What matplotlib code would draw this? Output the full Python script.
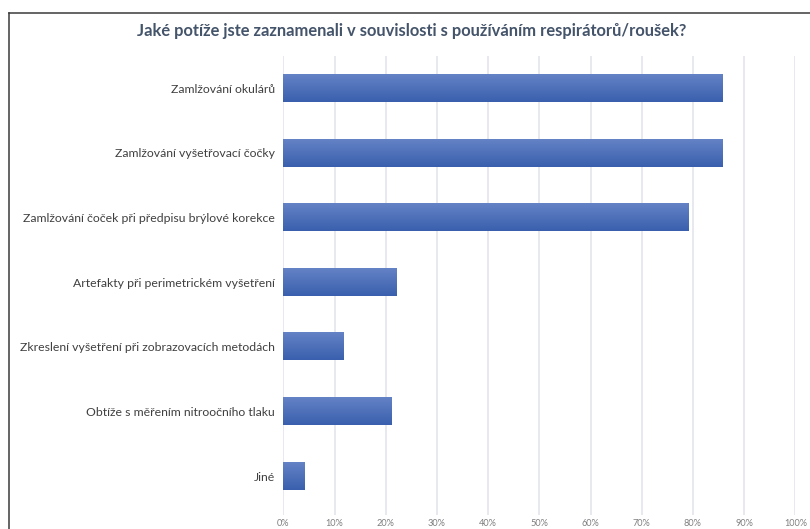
import numpy as np
import matplotlib
matplotlib.use("Agg")
import matplotlib.pyplot as plt
from matplotlib.lines import Line2D

categories = [
    "Zamlžování okulárů",
    "Zamlžování vyšetřovací čočky",
    "Zamlžování čoček při předpisu brýlové korekce",
    "Artefakty při perimetrickém vyšetření",
    "Zkreslení vyšetření při zobrazovacích metodách",
    "Obtíže s měřením nitroočního tlaku",
    "Jiné",
]
values = [85.9, 85.9, 79.2, 22.2, 11.9, 21.2, 4.2]
xticks = [0, 10, 20, 30, 40, 50, 60, 70, 80, 90, 100]
xticklabels = [f"{t}%" for t in xticks]
title = "Jaké potíže jste zaznamenali v souvislosti s používáním respirátorů/roušek?"

plt.rcParams['font.family'] = ['Lato', 'DejaVu Sans']

W, H = 810, 529
fig = plt.figure(figsize=(W / 100, H / 100), dpi=100)
ax = fig.add_axes([283.3 / W, 1 - 515 / H, (795.3 - 283.3) / W, (515 - 56) / H])

top_c = np.array([0x64, 0x82, 0xC6]) / 255
bot_c = np.array([0x3A, 0x60, 0xAD]) / 255
grad = np.linspace(0, 1, 64)[:, None, None]
img = top_c * (1 - grad) + bot_c * grad

bh = 0.42
for i, v in enumerate(values):
    ax.imshow(img, extent=[0, v, i + bh / 2, i - bh / 2], aspect='auto',
              interpolation='bilinear', zorder=3)

ax.set_xlim(0, 100)
ax.set_ylim(-0.5 + 7.1, -0.5)
ax.set_xticks(xticks)
ax.set_xticklabels(xticklabels, fontsize=6.6, color='#7F7F7F')
ax.set_yticks(range(len(categories)))
ax.set_yticklabels(categories, fontsize=8.85, color='#404040')
ax.tick_params(axis='both', length=0)
ax.tick_params(axis='y', pad=6)
ax.tick_params(axis='x', pad=3)
for s in ax.spines.values():
    s.set_visible(False)
ax.grid(axis='x', color='#E3E5EC', linewidth=1.2, zorder=0)
ax.set_axisbelow(True)

fig.text(412 / W, 1 - 31 / H, title, ha='center', va='center',
         fontsize=11.9, fontweight='bold', color='#44546A')

bc = '#3A3A3A'
fig.add_artist(Line2D([8.5 / W, 8.5 / W], [0, 1 - 12.5 / H], transform=fig.transFigure,
                      color=bc, linewidth=1.1))
fig.add_artist(Line2D([8.5 / W, 1], [1 - 12.5 / H, 1 - 12.5 / H], transform=fig.transFigure,
                      color=bc, linewidth=1.1))

fig.savefig("out.png", dpi=100)
